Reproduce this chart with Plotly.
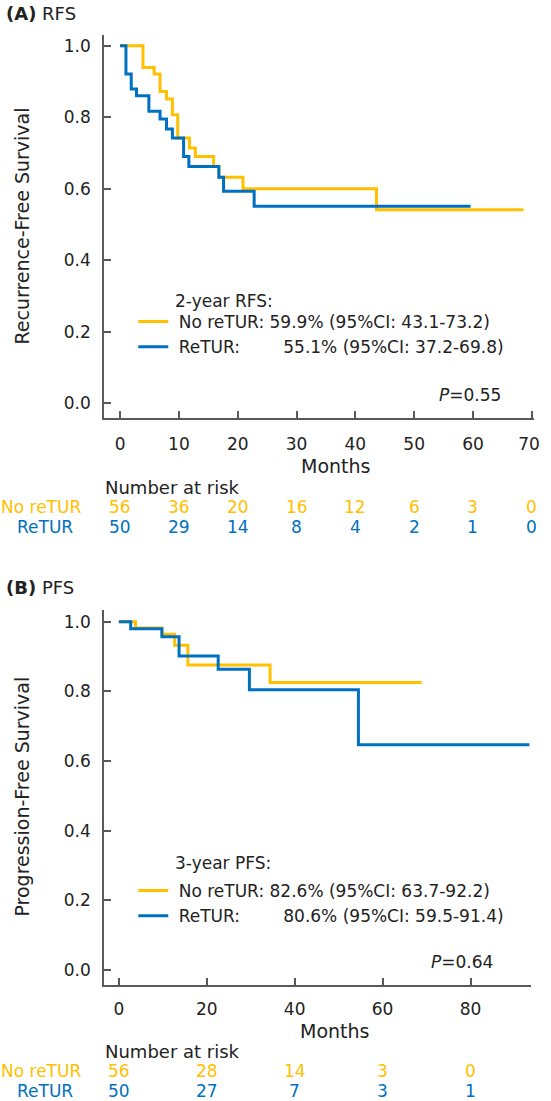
import plotly.graph_objects as go

# Layout positions below are given in screenshot pixels and converted to paper fractions.
OFF = 0
W, H = 551, 1101
FONT = "DejaVu Sans"
YEL = "#FFC000"
BLU = "#0070C0"
AX = "#595959"
TXT = "#222222"

# ---- Panel A: RFS (Kaplan-Meier step data) ----
rfs_no_t = [0, 3.9, 5.8, 6.8, 7.9, 8.9, 9.8, 11.8, 12.8, 15.9, 16.8, 20.9, 43.6, 68.6]
rfs_no_s = [1.0, 0.939, 0.921, 0.872, 0.851, 0.807, 0.742, 0.714, 0.690, 0.662, 0.632, 0.600, 0.541, 0.541]
rfs_re_t = [0, 1.0, 1.9, 2.8, 4.9, 6.8, 7.9, 8.9, 10.8, 11.7, 16.8, 17.6, 22.8, 59.6]
rfs_re_s = [1.0, 0.921, 0.879, 0.860, 0.817, 0.795, 0.767, 0.742, 0.690, 0.662, 0.632, 0.593, 0.551, 0.551]

# ---- Panel B: PFS ----
pfs_no_t = [0, 3.8, 9.8, 12.7, 15.7, 34.4, 68.9]
pfs_no_s = [1.0, 0.982, 0.964, 0.933, 0.876, 0.826, 0.826]
pfs_re_t = [0, 2.7, 9.8, 13.7, 22.6, 29.7, 54.5, 93.4]
pfs_re_s = [1.0, 0.980, 0.957, 0.902, 0.864, 0.805, 0.647, 0.647]

# ---- Number at risk ----
risk_a_times = [0, 10, 20, 30, 40, 50, 60, 70]
risk_a_no = [56, 36, 20, 16, 12, 6, 3, 0]
risk_a_re = [50, 29, 14, 8, 4, 2, 1, 0]
risk_b_times = [0, 20, 40, 60, 80]
risk_b_no = [56, 28, 14, 3, 0]
risk_b_re = [50, 27, 7, 3, 1]

x_ticklabels_a = ["0", "10", "20", "30", "40", "50", "60", "70\u00a0"]
y_ticks = [0.0, 0.2, 0.4, 0.6, 0.8, 1.0]
legend_a = ["\u00a0No reTUR: 59.9% (95%CI: 43.1-73.2)",
            "\u00a0ReTUR:" + "\u00a0" * 8 + "55.1% (95%CI: 37.2-69.8)"]
legend_b = ["\u00a0No reTUR: 82.6% (95%CI: 63.7-92.2)",
            "\u00a0ReTUR:" + "\u00a0" * 8 + "80.6% (95%CI: 59.5-91.4)"]


def px(x):
    return (x - OFF) / W


def py(y):
    return 1 - (y - OFF) / H


fig = go.Figure()

fig.add_trace(go.Scatter(x=rfs_no_t, y=rfs_no_s, mode="lines", line=dict(color=YEL, width=3, shape="hv"),
                         name=legend_a[0], xaxis="x", yaxis="y", legend="legend"))
fig.add_trace(go.Scatter(x=rfs_re_t, y=rfs_re_s, mode="lines", line=dict(color=BLU, width=3, shape="hv"),
                         name=legend_a[1], xaxis="x", yaxis="y", legend="legend"))
fig.add_trace(go.Scatter(x=pfs_no_t, y=pfs_no_s, mode="lines", line=dict(color=YEL, width=3, shape="hv"),
                         name=legend_b[0], xaxis="x2", yaxis="y2", legend="legend2"))
fig.add_trace(go.Scatter(x=pfs_re_t, y=pfs_re_s, mode="lines", line=dict(color=BLU, width=3, shape="hv"),
                         name=legend_b[1], xaxis="x2", yaxis="y2", legend="legend2"))

axis_common = dict(showline=True, linecolor=AX, linewidth=1.5, ticks="inside", ticklen=7,
                   tickwidth=1.5, tickcolor=AX, showgrid=False, zeroline=False,
                   ticklabeloverflow="allow",
                   tickfont=dict(family=FONT, size=17, color=TXT))

fig.update_layout(
    width=W, height=H, margin=dict(l=0, r=0, t=0, b=0),
    paper_bgcolor="white", plot_bgcolor="white",
    font=dict(family=FONT, size=17, color=TXT),
    xaxis=dict(domain=[px(106), px(545)], range=[-2.75, 70.4], tickvals=risk_a_times,
               ticktext=x_ticklabels_a,
               anchor="y", ticklabelstandoff=10, **axis_common),
    yaxis=dict(domain=[py(418), py(35)], range=[-0.041, 1.03], tickvals=y_ticks,
               tickformat=".1f", anchor="x", ticklabelstandoff=8, **axis_common),
    xaxis2=dict(domain=[px(106), px(542)], range=[-3.4, 93.8], tickvals=risk_b_times,
                anchor="y2", ticklabelstandoff=8, **axis_common),
    yaxis2=dict(domain=[py(985), py(610)], range=[-0.043, 1.034], tickvals=y_ticks,
                tickformat=".1f", anchor="x2", ticklabelstandoff=8, **axis_common),
    legend=dict(x=px(136), y=py(304), xanchor="left", yanchor="top", bgcolor="rgba(0,0,0,0)",
                font=dict(family=FONT, size=17, color=TXT), itemclick=False),
    legend2=dict(x=px(136), y=py(873), xanchor="left", yanchor="top", bgcolor="rgba(0,0,0,0)",
                 font=dict(family=FONT, size=17, color=TXT), itemclick=False),
    showlegend=True,
)

ann = []


def text(x, y, s, xanchor="left", color=TXT, size=17, angle=0):
    ann.append(dict(x=px(x), y=py(y), xref="paper", yref="paper", text=s, showarrow=False,
                    xanchor=xanchor, yanchor="middle", textangle=angle,
                    font=dict(family=FONT, size=size, color=color)))


def risk_row(times, counts, y, xref, color):
    for t, n in zip(times, counts):
        ann.append(dict(x=t, y=py(y), xref=xref, yref="paper", text=str(n), showarrow=False,
                        xanchor="center", yanchor="middle",
                        font=dict(family=FONT, size=17, color=color)))


# Panel titles
text(4, 14, "<b>(A)</b> RFS", size=18)
text(4, 587, "<b>(B)</b> PFS", size=18)
# Y titles
text(22, 226, "Recurrence-Free Survival", xanchor="center", angle=-90, size=19)
text(22, 797, "Progression-Free Survival", xanchor="center", angle=-90, size=19)
# Legend titles
text(177, 301, "2-year RFS:")
text(177, 863, "3-year PFS:")
# P values
text(513, 395, "<i>P</i>=0.55", xanchor="right")
text(505, 962, "<i>P</i>=0.64", xanchor="right")
# Months
text(342, 466, "Months", xanchor="center", size=19)
text(341, 1031, "Months", xanchor="center", size=19)
# Number at risk
text(105, 487, "Number at risk", size=18)
text(105, 1051, "Number at risk", size=18)
# Row labels
text(42, 507, "No reTUR", xanchor="center", color=YEL, size=17)
text(46, 527, "ReTUR", xanchor="center", color=BLU, size=17)
text(42, 1071, "No reTUR", xanchor="center", color=YEL, size=17)
text(46, 1091, "ReTUR", xanchor="center", color=BLU, size=17)

risk_row(risk_a_times, risk_a_no, 507, "x", YEL)
risk_row(risk_a_times, risk_a_re, 527, "x", BLU)
risk_row(risk_b_times, risk_b_no, 1071, "x2", YEL)
risk_row(risk_b_times, risk_b_re, 1091, "x2", BLU)

fig.update_layout(annotations=ann)
# remove the browser's default 8px body margin so the figure fills the window exactly
fig.write_html("out.html", config={"displayModeBar": False},
               post_script="document.body.style.margin='0';")
